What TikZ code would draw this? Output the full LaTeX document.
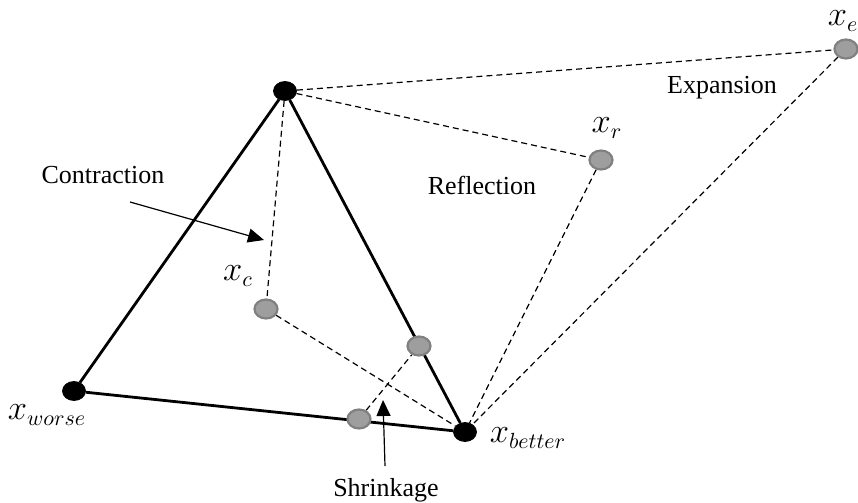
\documentclass[tikz,border=0pt]{standalone}
\usepackage{fontspec}
\setmainfont{Liberation Serif}
\usepackage{tikz}
\usetikzlibrary{arrows.meta,shapes.geometric,backgrounds}

\begin{document}
\begin{tikzpicture}[
    x=0.5pt, y=-0.5pt,
    best/.style={draw=black, fill=black, ellipse, minimum width=11.5pt, minimum height=9.5pt, inner sep=0pt},
    trial/.style={draw=black!50, fill=black!38, line width=1.1pt, ellipse, minimum width=11.5pt, minimum height=9.5pt, inner sep=0pt},
    edge/.style={line width=1.4pt},
    guess/.style={dash pattern=on 3pt off 2pt, line width=0.6pt},
    pointer/.style={-{Triangle[length=8pt, width=7pt]}, line width=0.6pt},
    word/.style={font=\fontsize{13}{15}\selectfont},
    sym/.style={font=\fontsize{16}{18}\selectfont}
]
\useasboundingbox (0,0) rectangle (858,503);

% simplex vertices
\node[best] at (285,91) (top) {};
\node[best] at (74,391) (worse) {};
\node[best] at (465,432) (better) {};

% trial points
\node[trial] at (846,49) (xe) {};
\node[trial] at (601,160) (xr) {};
\node[trial] at (266,309) (xc) {};
\node[trial] at (419,346) (stb) {};
\node[trial] at (359,419) (swb) {};

\begin{scope}[on background layer]
\draw[edge] (top) -- (worse) -- (better) -- (top);
\draw[guess] (top) -- (xe) -- (better);
\draw[guess] (top) -- (xr) -- (better);
\draw[guess] (top) -- (xc) -- (better);
\draw[guess] (swb) -- (stb);
\end{scope}

% labels
\node[sym, inner sep=1pt] at (843,21) (lxe) {$x_e$};
\node[sym] at (607,128) (lxr) {$x_r$};
\node[sym] at (238,276) (lxc) {$x_c$};
\node[sym] at (47,415) (lworse) {$x_{worse}$};
\node[sym] at (528,438) (lbetter) {$x_{better}$};

\node[word] at (722,88) (expansion) {Expansion};
\node[word] at (482,185) (reflection) {Reflection};
\node[word] at (103,175) (contraction) {Contraction};
\node[word] at (386,490) (shrinkage) {Shrinkage};

\coordinate (ctip) at (264,240);
\coordinate (cfrom) at (130,202);
\coordinate (stip) at (383,400);
\coordinate (sfrom) at (385,466);
\draw[pointer] (cfrom) -- (ctip);
\draw[pointer] (sfrom) -- (stip);
\end{tikzpicture}
\end{document}
